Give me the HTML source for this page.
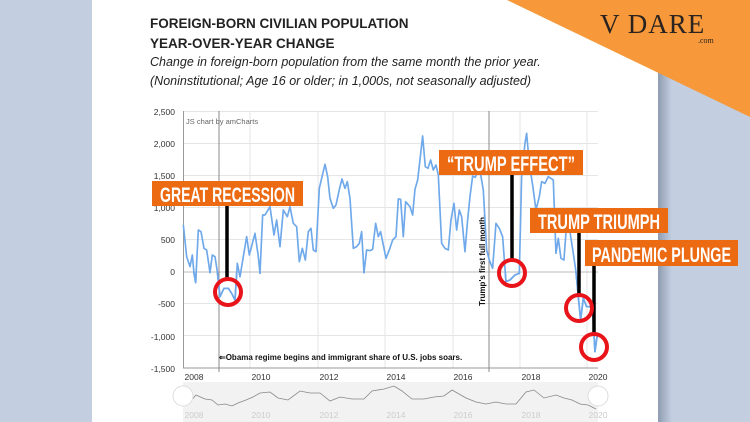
<!DOCTYPE html>
<html><head><meta charset="utf-8"><style>
body{margin:0;width:750px;height:422px;overflow:hidden;background:#c3cfe1;font-family:"Liberation Sans",sans-serif;}
</style></head><body>
<svg width="750" height="422" viewBox="0 0 750 422" xmlns="http://www.w3.org/2000/svg" style="position:absolute;left:0;top:0">
<defs>
<clipPath id="neg"><rect x="0" y="516" width="2000" height="500"/></clipPath>
<linearGradient id="sh" x1="0" x2="1"><stop offset="0" stop-color="#8f9bb0"/><stop offset="1" stop-color="#c3cfe1"/></linearGradient>
</defs>
<rect x="658" y="0" width="14" height="422" fill="url(#sh)"/>
<rect x="92" y="0" width="566" height="422" fill="#fff"/>
<polygon points="507,0 750,0 750,117" fill="#f7993a"/>
<text x="600" y="33" font-family="Liberation Serif,serif" font-size="27" fill="#2a2320" letter-spacing="1">V DARE</text>
<text x="698" y="43" font-family="Liberation Serif,serif" font-size="8" fill="#2a2320">.com</text>
<text x="150" y="28" font-size="13.5" font-weight="bold" fill="#222">FOREIGN-BORN CIVILIAN POPULATION</text>
<text x="150" y="48" font-size="13.5" font-weight="bold" fill="#222">YEAR-OVER-YEAR CHANGE</text>
<text x="150" y="66" font-size="12.5" font-style="italic" fill="#222">Change in foreign-born population from the same month the prior year.</text>
<text x="150" y="85" font-size="12.5" font-style="italic" fill="#222">(Noninstitutional; Age 16 or older; in 1,000s, not seasonally adjusted)</text>
<!-- grid -->
<g stroke="#e6e6e6" stroke-width="1">
<line x1="183" x2="598" y1="111.5" y2="111.5"/><line x1="183" x2="598" y1="143.5" y2="143.5"/><line x1="183" x2="598" y1="175.5" y2="175.5"/><line x1="183" x2="598" y1="207.5" y2="207.5"/><line x1="183" x2="598" y1="239.5" y2="239.5"/><line x1="183" x2="598" y1="303.5" y2="303.5"/><line x1="183" x2="598" y1="335.5" y2="335.5"/>
<line x1="250" x2="250" y1="111" y2="368"/><line x1="318" x2="318" y1="111" y2="368"/><line x1="385" x2="385" y1="111" y2="368"/><line x1="453" x2="453" y1="111" y2="368"/><line x1="520" x2="520" y1="111" y2="368"/><line x1="587" x2="587" y1="111" y2="368"/>
</g>
<line x1="183" x2="598" y1="272" y2="272" stroke="#bbb"/>
<line x1="183" x2="598" y1="368" y2="368" stroke="#999"/>
<line x1="183.5" x2="183.5" y1="111" y2="368" stroke="#999"/>
<line x1="219" x2="219" y1="111" y2="372" stroke="#888"/>
<line x1="489" x2="489" y1="111" y2="372" stroke="#888"/>
<g font-size="8.5" fill="#333" text-anchor="end">
<text x="175" y="115">2,500</text><text x="175" y="147">2,000</text><text x="175" y="179">1,500</text><text x="175" y="211">1,000</text><text x="175" y="243">500</text><text x="175" y="275">0</text><text x="175" y="307">-500</text><text x="175" y="340">-1,000</text><text x="175" y="372">-1,500</text>
</g>
<g font-size="8.5" fill="#333" text-anchor="middle">
<text x="194" y="380">2008</text><text x="261" y="380">2010</text><text x="329" y="380">2012</text><text x="396" y="380">2014</text><text x="463" y="380">2016</text><text x="531" y="380">2018</text><text x="598" y="380">2020</text>
</g>
<text x="186" y="124" font-size="7.5" fill="#666">JS chart by amCharts</text>
<text x="219" y="360" font-size="8" font-weight="bold" fill="#111">⇐Obama regime begins and immigrant share of U.S. jobs soars.</text>
<text transform="translate(485,306) rotate(-90)" font-size="8" font-weight="bold" fill="#111">Trump's first full month.</text>
<!-- scrollbar -->
<rect x="183" y="382" width="415" height="40" fill="#f2f2f2"/>
<polyline fill="none" stroke="#888" stroke-width="0.8" points="185,400 190,402 196,395 205,399 212,400 218,405 225,404 232,406 238,403 246,400 253,397 260,393 270,392 278,398 288,400 300,391 310,393 320,393 330,401 340,397 352,399 364,399 372,391 384,389 394,386 402,391 412,399 424,399 434,397 444,396 452,390 466,398 476,402 486,404 496,402 506,404 516,404 526,392 534,390 544,398 556,395 564,398 572,400 580,404 588,405 596,409"/>
<g font-size="8.5" fill="#ccc" text-anchor="middle">
<text x="194" y="418">2008</text><text x="261" y="418">2010</text><text x="329" y="418">2012</text><text x="396" y="418">2014</text><text x="463" y="418">2016</text><text x="531" y="418">2018</text><text x="598" y="418">2020</text>
</g>
<circle cx="183" cy="396" r="10" fill="#fff" stroke="#ddd"/><circle cx="598" cy="396" r="10" fill="#fff" stroke="#ddd"/>
<!-- data -->
<g transform="translate(140,100) scale(0.3333)">
<polyline id="d" fill="none" stroke="#6fa9ea" stroke-width="5" stroke-linejoin="round" points="130,375 140,470 150,500 157,465 162,520 167,548 175,390 183,395 192,445 200,450 210,518 217,465 225,470 232,515 240,590 252,565 265,565 275,580 285,600 292,490 300,530 310,470 320,410 328,465 345,400 355,470 360,520 368,345 375,345 390,320 402,405 410,360 420,440 430,330 442,350 450,320 460,370 470,380 478,485 487,445 496,480 505,395 513,385 520,450 528,455 538,265 545,235 555,193 563,230 570,295 580,325 588,315 600,260 606,237 615,265 622,245 630,295 640,445 650,440 658,430 665,395 672,518 680,450 690,452 698,448 707,370 715,410 722,395 738,475 748,450 758,420 768,410 775,297 782,298 790,410 797,305 810,320 818,345 825,268 833,240 840,180 848,108 856,200 864,205 872,180 880,210 888,195 895,225 905,430 915,445 925,450 933,360 942,310 950,390 958,330 965,350 975,455 983,360 990,290 998,228 1006,232 1018,200 1030,270 1040,450 1048,480 1058,505 1068,370 1078,385 1088,410 1098,545 1110,540 1125,525 1138,520 1145,230 1155,130 1160,100 1168,190 1178,255 1188,330 1198,290 1205,245 1215,250 1225,230 1240,240 1248,460 1255,415 1263,475 1272,480 1280,370 1290,395 1300,460 1308,515 1315,590 1322,660 1330,595 1340,620 1350,620 1358,630 1365,755 1372,705"/>
<use href="#d" clip-path="url(#neg)" style="stroke:#5a0f1a"/>
</g>
<!-- annotations -->
<g stroke="#000" stroke-width="3.5"><line x1="227" y1="205" x2="227" y2="280"/><line x1="512" y1="174" x2="512" y2="262"/><line x1="579" y1="232" x2="579" y2="296"/><line x1="594" y1="265" x2="594" y2="336"/></g>
<g fill="none" stroke="#e8141a" stroke-width="4"><circle cx="228" cy="292" r="13"/><circle cx="512" cy="273" r="13"/><circle cx="579" cy="308" r="13"/><circle cx="594" cy="347" r="13"/></g>
<g fill="#ec6a12"><rect x="152" y="181" width="151" height="25"/><rect x="439" y="150" width="144" height="25"/><rect x="530" y="208" width="138" height="25"/><rect x="585" y="240" width="153" height="26"/></g>
<g fill="#fff" font-weight="bold" font-size="21" font-family="Liberation Sans Narrow,Liberation Sans,sans-serif" text-anchor="middle">
<text x="227.5" y="202" textLength="135" lengthAdjust="spacingAndGlyphs">GREAT RECESSION</text>
<text x="511" y="171" textLength="128" lengthAdjust="spacingAndGlyphs">“TRUMP EFFECT”</text>
<text x="599" y="229" textLength="122" lengthAdjust="spacingAndGlyphs">TRUMP TRIUMPH</text>
<text x="661.5" y="262" textLength="139" lengthAdjust="spacingAndGlyphs">PANDEMIC PLUNGE</text>
</g>
</svg>
</body></html>
